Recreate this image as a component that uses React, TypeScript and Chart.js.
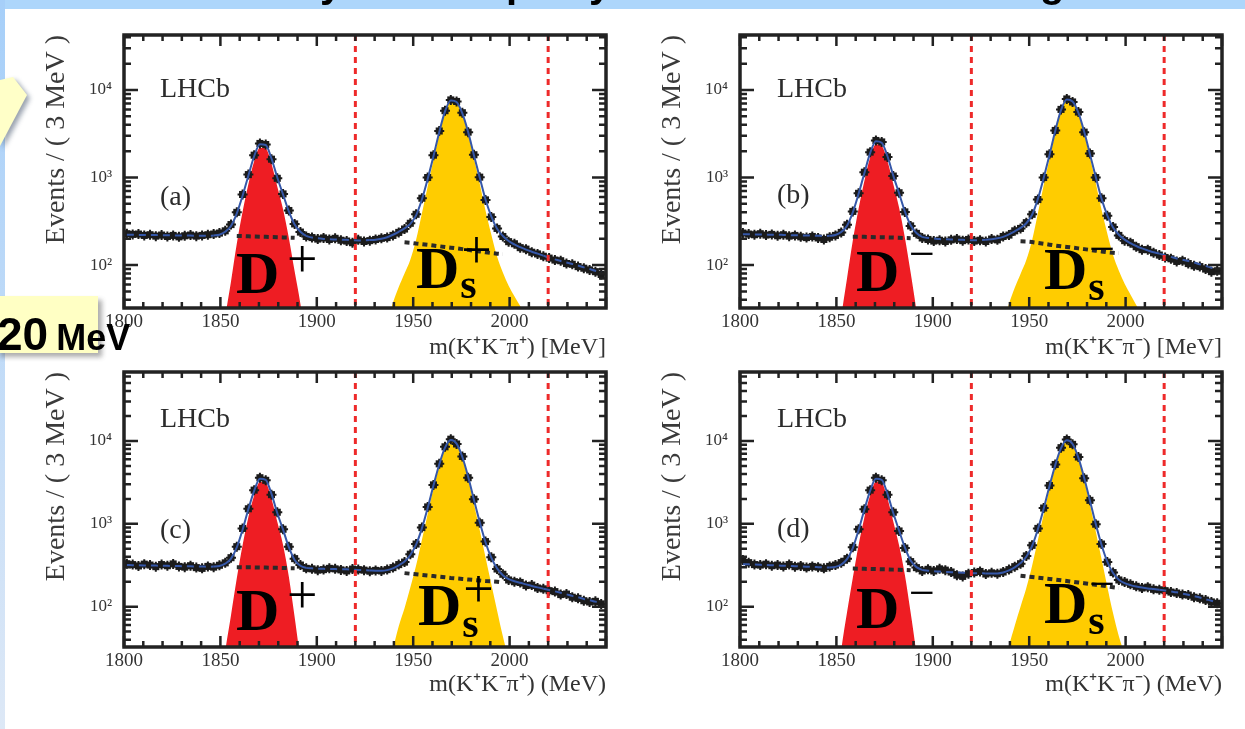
import React, { useEffect, useRef } from "react";
import { Chart, registerables } from "chart.js";

Chart.register(...registerables);

const SERIF = "'Liberation Serif', 'Times New Roman', serif";
const SANS = "'Liberation Sans', Arial, sans-serif";

// ---- binning / axes ----
const binStart = 1801.5;
const binWidth = 3;
const xMin = 1800;
const xMax = 2050;
const xTickValues = [1800, 1850, 1900, 1950, 2000];
const yTickValues = [100, 1000, 10000];
const yTickLabels = ["10²", "10³", "10⁴"];
const cutValues = [1920, 2020];
const sigDStart = 1846.5;
const sigDsStart = 1924.5;
const bgWindows = [[1858, 1889], [1943, 1997]];
const solidWindows = [[1846, 1897], [1927, 2020]];
const yTitle = "Events / ( 3 MeV )";

// ---- panel (a) ----
const dataA = [228,224,226,218,222,214,220,212,218,210, 216,220,214,218,222,226,232,246,290,400, 640,1080,1800,2450,2380,1620,980,650,420,295, 238,212,206,198,204,196,202,192,188,180, 194,186,190,196,202,206,218,236,258,300, 380,580,1000,1800,3400,5800,7700,7400,5500,3300, 1820,1010,555,355,262,212,185,175,158,152, 140,134,126,120,114,112,104,102,96,92, 88,84,78];
const bgA = [222,222,221,221,220,220,219,219,218,218, 217,217,216,216,216,215,215,215,215,215, 214,213,212,211,210,209,208,207,206,205, 204,203,201,200,199,197,196,195,194,192, 191,190,189,188,187,186,185,184,182,180, 176,173,170,167,164,161,158,155,152,149, 146,143,140,137,135,133,130,128,126,124, 121,119,115,111,108,105,102,99,96,92, 88,85,82];
const sigDA = [3,7,25,65,175,406,837,1538,2189,2140,1441,792,433,204,85,36,12,5,2];
const sigDsA = [2,4,7,13,22,37,56,80,115,194,387,790,1583,3136,5539,7442,7145,5248,3151,1654,857,420,223,125,82,58,44,34,26,21,16,13,10,8,6,5,4,3,2,2,1,1];

// ---- panel (b) ----
const dataB = [232,226,222,228,220,224,216,222,214,218, 210,206,212,204,196,208,218,236,288,410, 660,1150,1950,2650,2550,1720,1040,670,405,280, 230,204,196,188,192,186,194,198,190,196, 188,192,186,198,194,212,220,246,262,305, 380,560,1000,1850,3450,6000,7900,7300,5600,3300, 1880,1000,580,365,272,218,190,180,162,150, 150,138,130,122,118,110,112,104,98,96, 90,84,86];
const bgB = [225,225,224,224,223,222,222,221,220,219, 218,218,217,216,215,214,214,213,212,211, 211,210,209,208,208,207,206,205,204,203, 202,201,200,199,198,197,196,195,194,193, 192,191,190,190,189,189,188,188,187,186, 183,179,175,171,167,164,161,158,155,152, 149,146,143,140,138,136,134,132,130,128, 126,124,122,119,116,113,110,107,104,100, 96,92,88];
const sigDB = [2,6,25,70,189,439,910,1691,2392,2292,1543,844,455,206,82,30,9,4,2];
const sigDsB = [2,4,7,13,21,36,55,79,114,192,391,815,1629,3233,5736,7639,7242,5345,3198,1701,874,432,230,130,86,61,46,35,27,21,16,13,10,8,6,5,4,3,2,2,1,1];

// ---- panel (c) ----
const dataC = [330,322,310,326,318,304,322,312,328,306, 300,312,296,290,306,300,316,338,390,530, 880,1520,2550,3600,3350,2250,1380,860,530,380, 318,290,286,276,280,290,286,278,270,284, 280,276,268,274,270,280,296,322,345,430, 570,900,1600,2950,5300,8500,10500,9200,6500,3600, 1980,1030,610,395,285,246,210,200,196,180, 182,168,164,156,152,140,142,130,126,118, 114,116,108];
const bgC = [318,317,316,315,314,313,312,311,310,309, 308,307,306,305,304,303,302,301,301,300, 299,299,298,297,296,295,294,293,292,291, 290,289,288,287,286,285,284,283,282,280, 278,275,272,269,266,263,260,257,254,250, 246,242,238,234,230,226,222,219,216,213, 210,207,204,202,200,196,191,186,180,174, 168,162,157,152,147,142,137,132,127,122, 118,114,110];
const sigDC = [2,8,29,79,220,551,1201,2202,3203,3104,2005,1056,557,230,75,22,5,2,1];
const sigDsC = [1,2,3,6,13,30,58,96,170,314,638,1312,2666,4970,8074,10078,9081,6184,3487,1740,843,396,188,90,44,24,17,14,12,10,9,8,7,6,5,4,3,3,2,2,1,1];

// ---- panel (d) ----
const dataD = [366,340,322,318,326,312,318,306,322,304, 310,296,306,300,290,306,318,340,380,520, 860,1500,2550,3600,3350,2250,1380,820,510,350, 296,270,282,270,286,276,262,240,232,250, 258,266,248,256,250,262,280,304,330,410, 550,880,1550,2900,5200,8300,10400,9100,6400,3550, 1920,990,570,345,258,210,198,186,176,168, 172,162,160,156,150,146,140,138,130,126, 120,114,110];
const bgD = [326,324,322,320,318,316,314,312,310,308, 306,304,302,300,298,296,294,292,290,288, 287,286,285,284,283,282,280,279,277,275, 273,271,269,267,265,263,261,259,257,255, 253,251,249,247,245,243,241,239,236,232, 228,224,220,216,212,208,204,200,196,192, 188,184,180,176,172,168,165,162,159,157, 155,153,151,149,146,143,139,135,131,126, 121,116,111];
const sigDD = [2,8,30,85,222,553,1194,2215,3216,3117,2018,1070,551,243,85,27,7,3,1];
const sigDsD = [2,3,5,7,15,33,59,100,168,312,636,1300,2634,4888,7992,9996,9000,6104,3408,1712,816,380,174,83,44,27,20,16,13,11,10,9,8,7,6,5,4,3,3,2,2,1];

const CANVAS_W = 606;

type Lbl = { lhcb: number[]; letter: number[]; d: number[]; dSign: number[]; ds: number[]; dsS: number; dsSign: number };
type PanelCfg = {
  key: string; left: number; top: number; h: number; yMin: number; yMax: number;
  data: number[]; bg: number[]; sigD: number[]; sigDs: number[];
  letter: string; sign: string; xTitle: string; titlePad: number; lbl: Lbl;
};

const panels: PanelCfg[] = [
  { key: "a", left: 14, top: 25, h: 350, yMin: 32.3, yMax: 42500, data: dataA, bg: bgA, sigD: sigDA, sigDs: sigDsA,
    letter: "(a)", sign: "+", xTitle: "m(K⁺K⁻π⁺) [MeV]", titlePad: 13,
    lbl: { lhcb: [36, 62], letter: [36, 170], d: [112, 258], dSign: [163, 242], ds: [292, 253], dsS: 263, dsSign: 233 } },
  { key: "b", left: 630, top: 25, h: 350, yMin: 32.3, yMax: 42500, data: dataB, bg: bgB, sigD: sigDB, sigDs: sigDsB,
    letter: "(b)", sign: "−", xTitle: "m(K⁺K⁻π⁻) [MeV]", titlePad: 13,
    lbl: { lhcb: [37, 62], letter: [37, 168], d: [116, 256], dSign: [169, 234], ds: [304, 254], dsS: 265, dsSign: 229 } },
  { key: "c", left: 14, top: 362, h: 352, yMin: 32.6, yMax: 68000, data: dataC, bg: bgC, sigD: sigDC, sigDs: sigDsC,
    letter: "(c)", sign: "+", xTitle: "m(K⁺K⁻π⁺) (MeV)", titlePad: 15,
    lbl: { lhcb: [36, 55], letter: [36, 166], d: [112, 258], dSign: [163, 241], ds: [294, 253], dsS: 265, dsSign: 235 } },
  { key: "d", left: 630, top: 362, h: 352, yMin: 32.6, yMax: 68000, data: dataD, bg: bgD, sigD: sigDD, sigDs: sigDsD,
    letter: "(d)", sign: "−", xTitle: "m(K⁺K⁻π⁻) (MeV)", titlePad: 15,
    lbl: { lhcb: [37, 55], letter: [37, 165], d: [116, 256], dSign: [169, 236], ds: [304, 251], dsS: 262, dsSign: 227 } },
];

function toPoints(values: number[], start: number) {
  return values.map((v, i) => ({ x: start + binWidth * i, y: v }));
}
function lookup(values: number[], start: number, x: number) {
  const i = Math.round((x - start) / binWidth);
  return i >= 0 && i < values.length ? values[i] : 0;
}
function inWindows(x: number, wins: number[][]) {
  return wins.some(([a, b]) => x >= a && x <= b);
}

function Panel({ cfg }: { cfg: PanelCfg }) {
  const ref = useRef<HTMLCanvasElement | null>(null);
  useEffect(() => {
    const canvas = ref.current;
    if (!canvas) return;
    const dataPts = toPoints(cfg.data, binStart);
    const bgPts = toPoints(cfg.bg, binStart);
    const fitPts = bgPts.map((p) => ({
      x: p.x,
      y: p.y + lookup(cfg.sigD, sigDStart, p.x) + lookup(cfg.sigDs, sigDsStart, p.x),
    }));
    const dotted: { x: number; y: number | null }[] = [];
    bgWindows.forEach(([a, b]) => {
      bgPts.forEach((p) => { if (p.x >= a && p.x <= b) dotted.push(p); });
      dotted.push({ x: b + 1, y: null });
    });
    const L = cfg.lbl;

    const deco = {
      id: "deco" + cfg.key,
      afterDatasetsDraw(chart: any) {
        const { ctx, chartArea: ca, scales } = chart;
        const xs = scales.x;
        ctx.save();
        ctx.beginPath();
        ctx.rect(ca.left, ca.top, ca.right - ca.left, ca.bottom - ca.top);
        ctx.clip();
        ctx.strokeStyle = "#ee2a2a";
        ctx.lineWidth = 3;
        ctx.setLineDash([6, 5]);
        cutValues.forEach((c) => {
          const px = xs.getPixelForValue(c);
          ctx.beginPath();
          ctx.moveTo(px, ca.top);
          ctx.lineTo(px, ca.bottom);
          ctx.stroke();
        });
        ctx.restore();

        ctx.save();
        ctx.textAlign = "left";
        ctx.textBaseline = "alphabetic";
        ctx.fillStyle = "#2b2b2b";
        ctx.font = `28px ${SERIF}`;
        ctx.fillText("LHCb", ca.left + L.lhcb[0], ca.top + L.lhcb[1]);
        ctx.fillText(cfg.letter, ca.left + L.letter[0], ca.top + L.letter[1]);
        ctx.fillStyle = "#000";
        ctx.font = `bold 60px ${SERIF}`;
        const dW = ctx.measureText("D").width;
        ctx.fillText("D", ca.left + L.d[0], ca.top + L.d[1]);
        ctx.fillText("D", ca.left + L.ds[0], ca.top + L.ds[1]);
        const subX = ca.left + L.ds[0] + dW + 1;
        ctx.font = `bold 42px ${SERIF}`;
        ctx.fillText("s", subX, ca.top + L.dsS);
        ctx.font = cfg.sign === "+" ? `54px ${SERIF}` : `46px ${SERIF}`;
        ctx.fillText(cfg.sign, ca.left + L.dSign[0], ca.top + L.dSign[1]);
        ctx.fillText(cfg.sign, subX + 1, ca.top + L.dsSign);
        ctx.restore();
      },
      afterDraw(chart: any) {
        const { ctx, chartArea: ca, scales } = chart;
        const xs = scales.x;
        const ys = scales.y;
        ctx.save();
        ctx.strokeStyle = "#222";
        ctx.lineWidth = 2.5;
        ctx.beginPath();
        for (let v = xMin; v <= xMax; v += 10) {
          const px = xs.getPixelForValue(v);
          const len = v % 50 === 0 ? 11 : 6;
          ctx.moveTo(px, ca.bottom);
          ctx.lineTo(px, ca.bottom - len);
          ctx.moveTo(px, ca.top);
          ctx.lineTo(px, ca.top + len);
        }
        for (let dec = 10; dec <= 100000; dec *= 10) {
          for (let m = 1; m <= 9; m++) {
            const v = dec * m;
            if (v < cfg.yMin || v > cfg.yMax) continue;
            const py = ys.getPixelForValue(v);
            const len = m === 1 ? 14 : 7;
            ctx.moveTo(ca.left, py);
            ctx.lineTo(ca.left + len, py);
            ctx.moveTo(ca.right, py);
            ctx.lineTo(ca.right - len, py);
          }
        }
        ctx.stroke();
        ctx.lineWidth = 3.5;
        ctx.strokeRect(ca.left, ca.top, ca.right - ca.left, ca.bottom - ca.top);
        ctx.restore();
      },
    };

    const chart = new Chart(canvas, {
      type: "line",
      data: {
        datasets: [
          {
            data: fitPts,
            borderColor: "#3557a8",
            borderWidth: 2,
            pointRadius: 0,
            fill: false,
            cubicInterpolationMode: "monotone",
            segment: {
              borderDash: (c: any) =>
                inWindows(c.p0.parsed.x, solidWindows) && inWindows(c.p1.parsed.x, solidWindows) ? [] : [7, 5],
            },
          } as any,
          {
            data: dotted,
            borderColor: "#2a2a2a",
            borderWidth: 4,
            borderDash: [5, 4],
            pointRadius: 0,
            fill: false,
            spanGaps: false,
          },
          {
            data: dataPts,
            showLine: false,
            pointStyle: "rect",
            pointRadius: 5,
            pointBackgroundColor: "#1b1b1b",
            pointBorderColor: "#1b1b1b",
            pointBorderWidth: 0,
          },
          {
            data: dataPts,
            showLine: false,
            pointStyle: "cross",
            pointRadius: 5,
            pointBorderColor: "#1b1b1b",
            pointBorderWidth: 2,
          },
          {
            data: toPoints(cfg.sigDs, sigDsStart),
            borderColor: "transparent",
            borderWidth: 0,
            backgroundColor: "#ffcc00",
            fill: "start",
            pointRadius: 0,
            cubicInterpolationMode: "monotone",
          },
          {
            data: toPoints(cfg.sigD, sigDStart),
            borderColor: "transparent",
            borderWidth: 0,
            backgroundColor: "#ee1d23",
            fill: "start",
            pointRadius: 0,
            cubicInterpolationMode: "monotone",
          },
        ],
      },
      options: {
        responsive: false,
        maintainAspectRatio: false,
        devicePixelRatio: 1,
        animation: false,
        events: [],
        layout: { padding: { left: 0, right: 14, top: 10, bottom: 0 } },
        plugins: { legend: { display: false }, tooltip: { enabled: false } },
        scales: {
          x: {
            type: "linear",
            min: xMin,
            max: xMax,
            afterBuildTicks: (s: any) => { s.ticks = xTickValues.map((v) => ({ value: v })); },
            afterFit: (s: any) => { s.height = 67; s.paddingLeft = 0; s.paddingRight = 0; },
            ticks: {
              callback: (v: any) => String(v),
              font: { family: SERIF, size: 19 }, color: "#333", padding: 3, maxRotation: 0, autoSkip: false,
            },
            grid: { display: false, drawTicks: false },
            border: { display: false },
            title: { display: true, text: cfg.xTitle, align: "end", color: "#333",
              font: { family: SERIF, size: 24 }, padding: { top: 0, bottom: cfg.titlePad } },
          },
          y: {
            type: "logarithmic",
            min: cfg.yMin,
            max: cfg.yMax,
            afterBuildTicks: (s: any) => { s.ticks = yTickValues.map((v) => ({ value: v })); },
            afterFit: (s: any) => { s.width = 110; s.paddingTop = 0; s.paddingBottom = 0; },
            ticks: {
              callback: (v: any) => { const i = yTickValues.indexOf(Number(v)); return i >= 0 ? yTickLabels[i] : ""; },
              font: { family: SERIF, size: 17 }, color: "#333", padding: 12, autoSkip: false,
            },
            grid: { display: false, drawTicks: false },
            border: { display: false },
            title: { display: true, text: yTitle, align: "end", color: "#3a3a3a",
              font: { family: SERIF, size: 28 }, padding: { top: 26, bottom: 0 } },
          },
        },
      } as any,
      plugins: [deco],
    });
    return () => chart.destroy();
  }, [cfg]);
  return (
    <canvas
      ref={ref}
      width={CANVAS_W}
      height={cfg.h}
      style={{ position: "absolute", left: cfg.left, top: cfg.top, width: CANVAS_W, height: cfg.h }}
    />
  );
}

export default function App() {
  return (
    <div style={{ position: "absolute", left: 0, top: 0, width: 1245, height: 729, overflow: "hidden", background: "#fff" }}>
      <div style={{ position: "absolute", left: 0, top: 0, width: 1245, height: 9, background: "#add6fb" }} />
      <div style={{ position: "absolute", left: 0, top: 0, width: 5, height: 729, background: "linear-gradient(#a6cff9, #dde8f6)" }} />
      {panels.map((p) => (
        <Panel key={p.key} cfg={p} />
      ))}
      <svg width={1245} height={729} style={{ position: "absolute", left: 0, top: 0, pointerEvents: "none" }}>
        <defs>
          <filter id="soft" x="-50%" y="-50%" width="200%" height="200%">
            <feGaussianBlur stdDeviation="2.5" />
          </filter>
        </defs>
        <g fontFamily={SANS} fontWeight="bold" fontSize="40" fill="#000">
          <text x={320} y={-3}>y</text>
          <text x={506} y={-3}>p</text>
          <text x={589} y={-3}>y</text>
          <text x={1040} y={-3}>g</text>
        </g>
        <polygon points="0,80 13,77 27,95 0,146" fill="#44556c" opacity={0.55} transform="translate(3,3)" filter="url(#soft)" />
        <polygon points="0,80 13,77 27,95 0,146" fill="#ffffc8" />
        <rect x={0} y={300} width={102} height={57} fill="#4a4a4a" opacity={0.45} filter="url(#soft)" />
        <rect x={-2} y={296} width={100} height={57} fill="#ffffc4" />
        <text x={-3} y={350} fontFamily={SANS} fontWeight="bold" fill="#000">
          <tspan fontSize="46">20</tspan>
          <tspan fontSize="36" dx="8">MeV</tspan>
        </text>
      </svg>
    </div>
  );
}
